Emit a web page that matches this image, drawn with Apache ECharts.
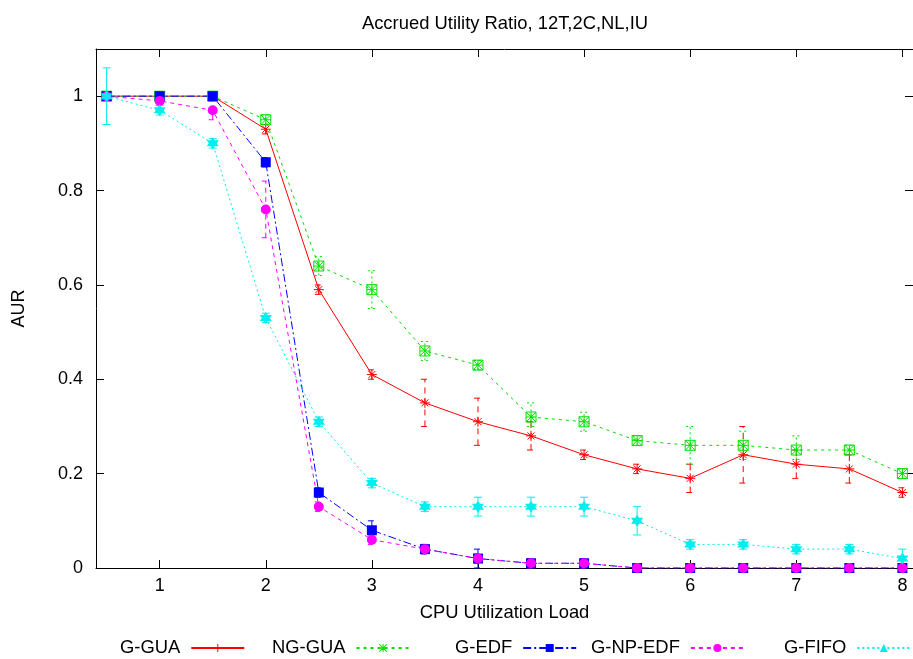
<!DOCTYPE html>
<html><head><meta charset="utf-8">
<script src="https://cdn.jsdelivr.net/npm/echarts@6/dist/echarts.min.js"></script>
<style>html,body{margin:0;padding:0;background:#fff}#c{width:913px;height:659px}</style>
</head><body><div id="c"></div>
<script>
// ---- data ----
const loads = [0.5,1,1.5,2,2.5,3,3.5,4,4.5,5,5.5,6,6.5,7,7.5,8];
const xTicks = [1,2,3,4,5,6,7,8];
const yTicks = [0,0.2,0.4,0.6,0.8,1];
const seriesNames = ['G-GUA','NG-GUA','G-EDF','G-NP-EDF','G-FIFO'];

const gGUA   = [1,1,1,0.93,0.59,0.41,0.35,0.31,0.28,0.24,0.21,0.19,0.24,0.22,0.21,0.16];
const ngGUA  = [1,1,1,0.95,0.64,0.59,0.46,0.43,0.32,0.31,0.27,0.26,0.26,0.25,0.25,0.20];
const gEDF   = [1,1,1,0.86,0.16,0.08,0.04,0.02,0.01,0.01,0,0,0,0,0,0];
const gNPEDF = [1,0.99,0.97,0.76,0.13,0.06,0.04,0.02,0.01,0.01,0,0,0,0,0,0];
const gFIFO  = [1,0.97,0.90,0.53,0.31,0.18,0.13,0.13,0.13,0.13,0.10,0.05,0.05,0.04,0.04,0.02];

// error bars (low / high) per load
const gGUALow    = [1,1,1,0.92,0.58,0.40,0.30,0.26,0.25,0.23,0.20,0.16,0.18,0.19,0.18,0.15];
const gGUAHigh   = [1,1,1,0.94,0.60,0.42,0.40,0.36,0.31,0.25,0.22,0.22,0.30,0.25,0.24,0.17];
const ngGUALow   = [1,1,1,0.94,0.62,0.55,0.44,0.42,0.30,0.29,0.26,0.22,0.23,0.23,0.24,0.19];
const ngGUAHigh  = [1,1,1,0.96,0.66,0.63,0.48,0.44,0.35,0.33,0.28,0.30,0.29,0.28,0.26,0.21];
const gEDFLow    = [1,1,1,0.85,0.15,0.06,0.03,0,0,0,0,0,0,0,0,0];
const gEDFHigh   = [1,1,1,0.87,0.17,0.10,0.05,0.04,0.02,0.02,0,0,0,0,0,0];
const gNPEDFLow  = [1,0.98,0.95,0.70,0.12,0.05,0.03,0.01,0,0,0,0,0,0,0,0];
const gNPEDFHigh = [1,1,0.99,0.82,0.14,0.07,0.05,0.03,0.02,0.02,0,0,0,0,0,0];
const gFIFOLow   = [0.94,0.96,0.89,0.52,0.30,0.17,0.12,0.11,0.11,0.11,0.07,0.04,0.04,0.03,0.03,0];
const gFIFOHigh  = [1.06,0.98,0.91,0.54,0.32,0.19,0.14,0.15,0.15,0.15,0.13,0.06,0.06,0.05,0.05,0.04];

// ---- styling ----
const FONT = 'Liberation Sans, Arial, sans-serif';
const FS = 18;
const FS2 = 18.4;
const colors = ['#ff0000','#00e000','#0000ff','#ff00ff','#00eeee'];
const lineDash = ['solid',[3,4],[8,3,2,3],[4,4],[2,3]];
const barDash = [[6,5],[2,3],[6,3,2,3],[5,4],null];
const values = [gGUA, ngGUA, gEDF, gNPEDF, gFIFO];
const lows = [gGUALow, ngGUALow, gEDFLow, gNPEDFLow, gFIFOLow];
const highs = [gGUAHigh, ngGUAHigh, gEDFHigh, gNPEDFHigh, gFIFOHigh];

const PLUS = 'path://M4.4,0H5.6V4.4H10V5.6H5.6V10H4.4V5.6H0V4.4H4.4Z';
const STAR = 'path://M4.4,0H5.6V4.4H10V5.6H5.6V10H4.4V5.6H0V4.4H4.4Z M0,0.85L0.85,0L10,9.15L9.15,10Z M9.15,0L10,0.85L0.85,10L0,9.15Z';
const legendSymbols = [PLUS, STAR, 'rect', 'circle', 'triangle'];
const ASTER_STROKE = 'path://M0,5H10M5,0V10M1.5,1.5L8.5,8.5M8.5,1.5L1.5,8.5';
const BOX_ASTER = 'path://M0,0H10V10H0ZM0,5H10M5,0V10M0,0L10,10M10,0L0,10';
const HEXAGRAM = 'path://M5,0L9.33,7.5L0.67,7.5Z M5,10L0.67,2.5L9.33,2.5Z';
const plotSymbols = [ASTER_STROKE, BOX_ASTER, 'rect', 'circle', HEXAGRAM];
const plotSizes = [10, 10, 10, 10, 12];

const series = [];
seriesNames.forEach((name, i) => {
  const pts = loads.map((x, k) => [x, values[i][k]]);
  series.push({
    name, type: 'line', data: pts, z: 2 + i,
    symbol: legendSymbols[i], showSymbol: false, symbolSize: 8,
    lineStyle: { color: colors[i], width: 1, type: lineDash[i] },
    itemStyle: { color: colors[i] },
    animation: false, silent: true
  });
  const eb = loads.map((x, k) => [x, lows[i][k], highs[i][k]]).filter(d => d[2] > d[1]);
  series.push({
    name: name + ' err', type: 'custom', data: eb, z: 2 + i,
    encode: { x: 0, y: [1, 2] }, silent: true, animation: false,
    renderItem: (params, api) => {
      const x = api.value(0), lo = api.value(1), hi = api.value(2);
      const p1 = api.coord([x, lo]), p2 = api.coord([x, hi]);
      const hw = 4;
      const st = { stroke: colors[i], lineWidth: 1, lineDash: barDash[i] || null, fill: null };
      return { type: 'group', children: [
        { type: 'line', shape: { x1: p1[0], y1: p1[1], x2: p2[0], y2: p2[1] }, style: st },
        { type: 'line', shape: { x1: p1[0]-hw, y1: p1[1], x2: p1[0]+hw, y2: p1[1] }, style: st },
        { type: 'line', shape: { x1: p2[0]-hw, y1: p2[1], x2: p2[0]+hw, y2: p2[1] }, style: st }
      ]};
    }
  });
  const stroked = i < 2;
  series.push({
    name: name + ' pts', type: 'scatter', data: pts, z: 3 + i,
    symbol: plotSymbols[i], symbolSize: plotSizes[i],
    itemStyle: stroked ? { color: 'rgba(0,0,0,0)', borderColor: colors[i], borderWidth: 1, opacity: 1 }
                       : { color: colors[i], opacity: 1 },
    animation: false, silent: true
  });
});

const legendLefts = [115, 267, 450, 586, 779];
const legends = seriesNames.map((n, i) => ({
  data: [n], left: legendLefts[i], top: 634, align: 'right',
  itemWidth: 53, itemHeight: 10, selectedMode: false,
  textStyle: { color: '#000', fontSize: FS2, fontFamily: FONT, padding: [0, 6, 0, 0] }
}));

const axisCommon = {
  axisLine: { show: true, onZero: false, lineStyle: { color: '#000', width: 1 } },
  splitLine: { show: false }
};

const option = {
  backgroundColor: '#fff',
  animation: false,
  title: {
    text: 'Accrued Utility Ratio, 12T,2C,NL,IU',
    left: 500, top: 10, textAlign: 'center',
    textStyle: { color: '#000', fontSize: FS2, fontWeight: 'normal', fontFamily: FONT }
  },
  legend: legends,
  grid: { left: 96, right: 0, top: 49, bottom: 91, containLabel: false },
  xAxis: [
    Object.assign({}, axisCommon, {
      type: 'value', min: 0.4, max: 8.1, position: 'bottom',
      name: 'CPU Utilization Load', nameLocation: 'middle', nameGap: 36,
      nameTextStyle: { color: '#000', fontSize: FS2, fontFamily: FONT },
      axisTick: { show: true, inside: true, length: 8, customValues: xTicks, lineStyle: { color: '#000' } },
      axisLabel: { show: true, customValues: xTicks, margin: 9, color: '#000', fontSize: FS, fontFamily: FONT }
    }),
    Object.assign({}, axisCommon, {
      type: 'value', min: 0.4, max: 8.1, position: 'top',
      axisTick: { show: true, inside: true, length: 8, customValues: xTicks, lineStyle: { color: '#000' } },
      axisLabel: { show: false }
    })
  ],
  yAxis: [
    Object.assign({}, axisCommon, {
      type: 'value', min: 0, max: 1.1, position: 'left',
      name: 'AUR', nameLocation: 'middle', nameGap: 68,
      nameTextStyle: { color: '#000', fontSize: FS, fontFamily: FONT },
      axisTick: { show: true, inside: true, length: 8, customValues: yTicks, lineStyle: { color: '#000' } },
      axisLabel: { show: true, customValues: yTicks, margin: 13, color: '#000', fontSize: FS, fontFamily: FONT }
    }),
    Object.assign({}, axisCommon, {
      type: 'value', min: 0, max: 1.1, position: 'right',
      axisTick: { show: true, inside: true, length: 8, customValues: yTicks, lineStyle: { color: '#000' } },
      axisLabel: { show: false }
    })
  ],
  series
};

const chart = echarts.init(document.getElementById('c'), null, { renderer: 'canvas' });
chart.setOption(option);
</script>
</body></html>
